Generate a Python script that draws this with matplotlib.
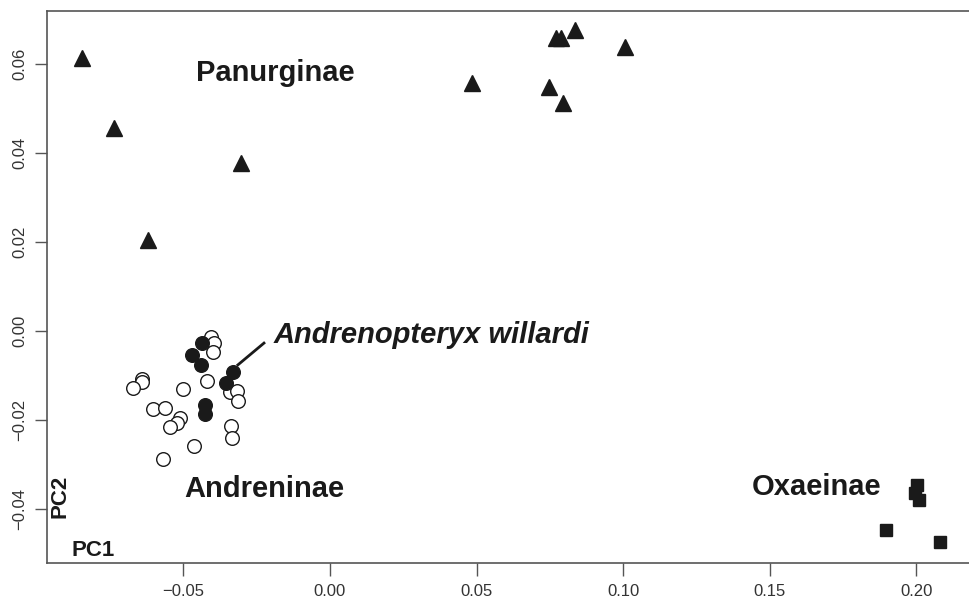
import matplotlib
import matplotlib.pyplot as plt

matplotlib.use('agg')
plt.rcParams['font.family'] = ['Liberation Sans', 'DejaVu Sans']

# Panurginae (triangles)
pan_x = [-0.0846, -0.0737, -0.0621, -0.0304, 0.0484, 0.0747, 0.0771, 0.0788, 0.0795, 0.0836, 0.1006]
pan_y = [0.0613, 0.0456, 0.0204, 0.0378, 0.0557, 0.0548, 0.0658, 0.0658, 0.0512, 0.0676, 0.0638]

# Oxaeinae (squares)
oxa_x = [0.2002, 0.1995, 0.2009, 0.1896, 0.2080]
oxa_y = [-0.0346, -0.0364, -0.0380, -0.0447, -0.0474]

# Andreninae (open circles)
and_x = [-0.0406, -0.0396, -0.0399, -0.0420, -0.0641, -0.0641, -0.0672, -0.0501, -0.0341, -0.0317,
         -0.0314, -0.0604, -0.0563, -0.0512, -0.0522, -0.0546, -0.0338, -0.0334, -0.0464, -0.0570]
and_y = [-0.0013, -0.0027, -0.0047, -0.0112, -0.0108, -0.0115, -0.0128, -0.0130, -0.0137, -0.0135,
         -0.0157, -0.0175, -0.0173, -0.0196, -0.0207, -0.0216, -0.0213, -0.0240, -0.0258, -0.0288]

# Andrenopteryx willardi (filled circles)
wil_x = [-0.0437, -0.0471, -0.0440, -0.0331, -0.0355, -0.0426, -0.0426]
wil_y = [-0.0027, -0.0054, -0.0076, -0.0092, -0.0117, -0.0166, -0.0187]

xticks = [-0.05, 0.00, 0.05, 0.10, 0.15, 0.20]
yticks = [-0.04, -0.02, 0.00, 0.02, 0.04, 0.06]

ink = '#1a1a1a'
grey = '#555555'


def fmt(t):
    return ('%.2f' % t).replace('-', '\u2212')


fig = plt.figure(figsize=(9.7, 6.0), dpi=100)
ax = fig.add_axes([47 / 970, 37 / 600, 928 / 970, 552 / 600])

ax.plot(pan_x, pan_y, '^', ms=11.5, color=ink, mec=ink)
ax.plot(oxa_x, oxa_y, 's', ms=8.5, color=ink, mec=ink)
ax.plot(and_x, and_y, 'o', ms=9.8, mfc='white', mec=ink, mew=1.0)
ax.plot(wil_x, wil_y, 'o', ms=9.8, color=ink, mec=ink)

ax.set_xlim(-0.0965, 0.2200)
ax.set_ylim(-0.0521, 0.0719)

ax.set_xticks(xticks)
ax.set_xticklabels([fmt(t) for t in xticks])
ax.set_yticks(yticks)
ax.set_yticklabels([fmt(t) for t in yticks], rotation=90, va='center')
ax.tick_params(axis='both', direction='out', length=9, width=1, color=grey,
               labelcolor='#333333', labelsize=12)
ax.tick_params(axis='x', pad=6)
ax.tick_params(axis='y', pad=5)

for s in ax.spines.values():
    s.set_color(grey)
    s.set_linewidth(1.2)

lab = dict(fontsize=21, fontweight='bold', color=ink, ha='center', va='center')
ax.text(-0.0188, 0.0580, 'Panurginae', **lab)
ax.text(-0.0225, -0.0355, 'Andreninae', **lab)
ax.text(0.1660, -0.0351, 'Oxaeinae', **lab)
ax.text(-0.0191, -0.0009, 'Andrenopteryx willardi', fontsize=21, fontweight='bold',
        style='italic', color=ink, ha='left', va='center')
ax.plot([-0.0314, -0.0225], [-0.0076, -0.0027], '-', color=ink, lw=2)

ax.text(0.014, 0.12, 'PC2', transform=ax.transAxes, fontsize=16, fontweight='bold',
        color=ink, rotation=90, ha='center', va='center')
ax.text(0.050, 0.023, 'PC1', transform=ax.transAxes, fontsize=16, fontweight='bold',
        color=ink, ha='center', va='center')

plt.savefig('out.png', dpi=100)
